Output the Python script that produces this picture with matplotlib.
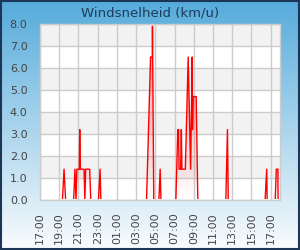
import matplotlib
matplotlib.use("Agg")
import matplotlib.pyplot as plt
import matplotlib.dates as mdates
import matplotlib.transforms as mtransforms
import numpy as np
import pandas as pd

title = "Windsnelheid (km/u)"
start_time = "2024-05-01 17:00"
end_time = "2024-05-02 17:58"

times = ["05-01 19:20", "05-01 19:30", "05-01 19:40",
         "05-01 20:30", "05-01 20:38", "05-01 20:45", "05-01 20:50", "05-01 21:05",
         "05-01 21:08", "05-01 21:12", "05-01 21:35", "05-01 21:40",
         "05-01 21:45", "05-01 22:10", "05-01 22:17",
         "05-01 23:05", "05-01 23:15", "05-01 23:20",
         "05-02 04:05", "05-02 04:30", "05-02 04:41", "05-02 04:42", "05-02 04:50",
         "05-02 05:22", "05-02 05:30", "05-02 05:35",
         "05-02 07:08", "05-02 07:20", "05-02 07:25", "05-02 07:28", "05-02 07:38",
         "05-02 07:42", "05-02 07:46", "05-02 08:07", "05-02 08:25",
         "05-02 08:40", "05-02 08:50", "05-02 08:52", "05-02 08:56", "05-02 09:15",
         "05-02 09:25",
         "05-02 12:20", "05-02 12:30", "05-02 12:35",
         "05-02 16:25", "05-02 16:35", "05-02 16:38",
         "05-02 17:28", "05-02 17:35", "05-02 17:45", "05-02 17:46"]
speed = [0, 1.4, 0,
         0, 1.4, 0, 1.4, 1.4, 3.2, 1.4, 1.4, 0,
         1.4, 1.4, 0,
         0, 1.4, 0,
         0, 6.5, 6.5, 7.9, 0,
         0, 1.4, 0,
         0, 3.2, 3.2, 1.4, 1.4, 3.2, 1.4, 1.4, 6.5,
         1.4, 6.5, 3.2, 4.7, 4.7, 0,
         0, 3.2, 0,
         0, 1.4, 0,
         0, 1.4, 1.4, 0]
y_ticks = [0, 1, 2, 3, 4, 5, 6, 7, 8]

x = mdates.date2num([pd.Timestamp("2024-" + t) for t in times])
y = np.array(speed, dtype=float)
x0 = mdates.date2num(pd.Timestamp(start_time))
x1 = mdates.date2num(pd.Timestamp(end_time))

fig = plt.figure(figsize=(3.0, 2.5), dpi=100)

# figure background gradient
bg = fig.add_axes([0, 0, 1, 1], zorder=-10)
bg.set_axis_off()
top_c = np.array([0x55, 0xab, 0xdb]) / 255
bot_c = np.array([0xfa, 0xfc, 0xfe]) / 255
t = np.linspace(0, 1, 256)[:, None]
grad = top_c * (1 - t) + bot_c * t
grad = np.repeat(grad[:, None, :], 2, axis=1)
bg.imshow(grad, aspect="auto", extent=[0, 1, 0, 1], origin="upper")
bg.set_xlim(0, 1); bg.set_ylim(0, 1)
bg.add_patch(plt.Rectangle((0.002, 0.003), 0.995, 0.994, fill=False,
                           edgecolor="#1b3656", linewidth=1.5))

ax = fig.add_axes([40/300, 50/250, 240/300, 176/250])
ax.set_xlim(x0, x1)
ax.set_ylim(0, 8)

# alternating bands
for i in range(8):
    ax.axhspan(i, i + 1, color="#f2f2f2" if i % 2 == 1 else "#ffffff", zorder=0, linewidth=0)

ax.grid(True, color="#cccccc", linewidth=1, zorder=1)
ax.set_axisbelow(True)

# gradient fill under the line
poly = ax.fill_between(x, 0, y, facecolor="none", edgecolor="none")
path = poly.get_paths()[0]
gt = np.linspace(0, 1, 256)[:, None]
rgba = np.zeros((256, 2, 4))
rgba[..., 0] = 1.0
rgba[..., 1] = 0.2
rgba[..., 2] = 0.2
rgba[..., 3] = np.repeat(0.55 * (1 - gt), 2, axis=1)
im = ax.imshow(rgba, aspect="auto", extent=[x0, x1, 0, 8], origin="upper", zorder=1.5)
im.set_clip_path(path, transform=ax.transData)

line, = ax.plot(x, y, color="#ff0000", linewidth=1.0, zorder=2)
# hide the baseline part of the line (zero readings sit on the axis edge)
clip_rect = plt.Rectangle((0, 1.2/176), 1, 1, transform=ax.transAxes,
                          facecolor="none", edgecolor="none")
ax.add_patch(clip_rect)
line.set_clip_path(clip_rect)

ax.set_yticks(y_ticks)
ax.yaxis.set_major_formatter(plt.FuncFormatter(lambda v, p: f"{v:.1f}"))
ax.xaxis.set_major_locator(mdates.HourLocator(byhour=range(1, 24, 2)))
ax.xaxis.set_major_formatter(mdates.DateFormatter("%H:%M"))
ax.tick_params(axis="both", length=0, colors="#444444", labelsize=8)
ax.tick_params(axis="y", pad=9)
ax.tick_params(axis="x", pad=9)
for lbl in ax.get_xticklabels():
    lbl.set_rotation(90)

for s in ax.spines.values():
    s.set_color("#cccccc")
    s.set_linewidth(1)
    s.set_zorder(3)

fig.text(0.5, 1 - 13/250, title, ha="center", va="center", fontsize=9.5, color="#1e3a5a")

fig.savefig("out.png", dpi=100)
